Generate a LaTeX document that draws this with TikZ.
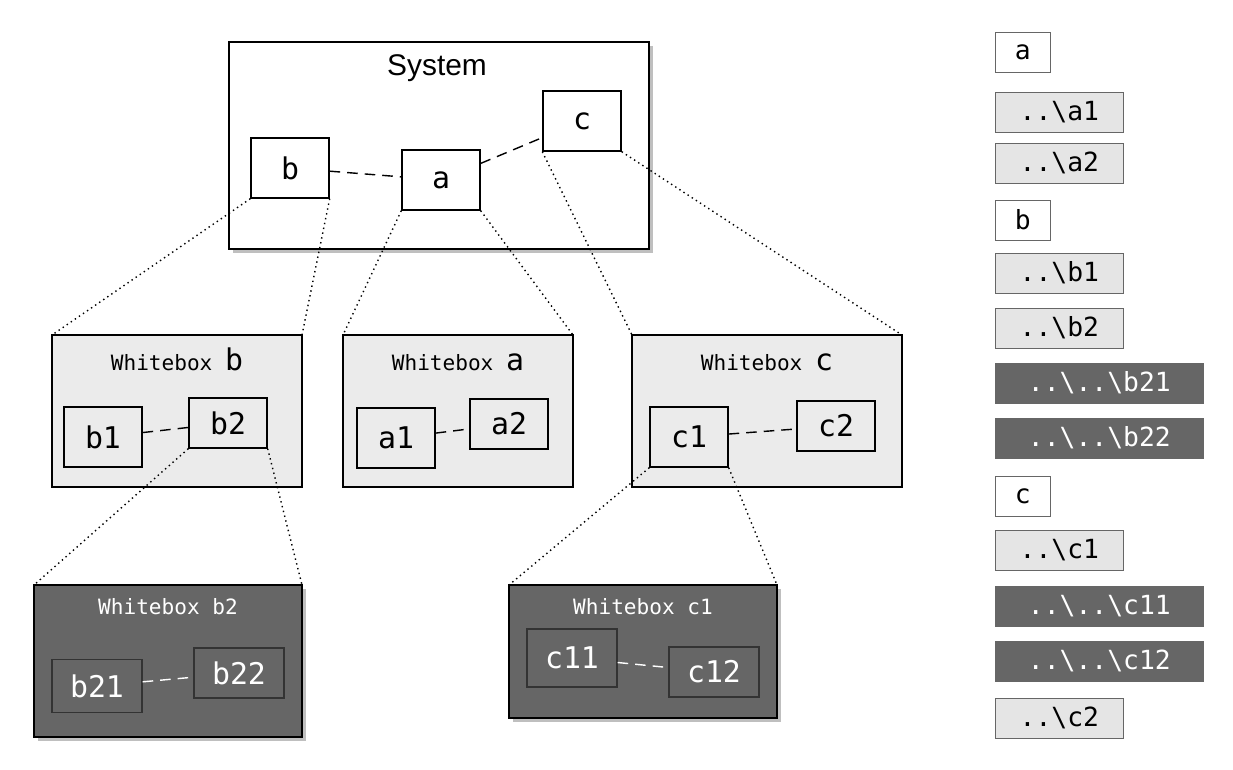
\documentclass[tikz,border=0pt]{standalone}
\usepackage{fontspec}
\setsansfont{Liberation Sans}
\setmonofont{DejaVu Sans Mono}
\usetikzlibrary{shadows}
\colorlet{wbLight}{black!8}
\colorlet{wbDark}{black!60}
\tikzset{
  part/.style={draw,thick,minimum width=1.56cm,minimum height=1.2cm,font=\ttfamily\fontsize{17}{17}\selectfont},
  darkpart/.style={part,fill=wbDark,text=white,draw=black!80,minimum width=1.8cm,minimum height=1.05cm},
  link/.style={thick,dashed,dash pattern=on 6pt off 4pt},
  zoomline/.style={thick,dotted},
  whitebox/.style={draw,thick,fill=wbLight},
  darkbox/.style={draw,thick,fill=wbDark,drop shadow={opacity=0.5}},
  entry/.style={draw=black!60,anchor=west,minimum height=0.8cm,inner xsep=4pt,font=\ttfamily\fontsize{15}{15}\selectfont},
}
\begin{document}
\begin{tikzpicture}[x=0.02cm,y=-0.02cm]
\useasboundingbox (0,0) rectangle (1233,769);
% system
\draw[thick,fill=white,drop shadow={opacity=0.5}] (229,42) rectangle (649,249);
\node[font=\sffamily\fontsize{17}{17}\selectfont] (sysTitle) at (437,68) {System};
\node[part,fill=white] (b) at (290,168) {b};
\node[part,fill=white] (a) at (441,180) {a};
\node[part,fill=white] (c) at (582,121) {c};
\draw[link] (b) -- (a);
\draw[link] (a) -- (c);
% whiteboxes
\draw[whitebox] (52,335) coordinate (wbbTL) rectangle (302,487) coordinate (wbbBR);
\coordinate (wbbTR) at (302,335);
\node[font=\ttfamily\fontsize{12}{12}\selectfont,anchor=base] (wbbTitle) at (177,370) {Whitebox \fontsize{17}{17}\selectfont b};
\node[part,fill=wbLight] (b1) at (103,437) {b1};
\node[part,fill=wbLight,minimum height=1cm] (b2) at (228,423) {b2};
\draw[link] (b1) -- (b2);
\draw[whitebox] (343,335) coordinate (wbaTL) rectangle (573,487);
\coordinate (wbaTR) at (573,335);
\node[font=\ttfamily\fontsize{12}{12}\selectfont,anchor=base] (wbaTitle) at (458,370) {Whitebox \fontsize{17}{17}\selectfont a};
\node[part,fill=wbLight] (a1) at (396,438) {a1};
\node[part,fill=wbLight,minimum height=1cm] (a2) at (509,424) {a2};
\draw[link] (a1) -- (a2);
\draw[whitebox] (632,335) coordinate (wbcTL) rectangle (902,487);
\coordinate (wbcTR) at (902,335);
\node[font=\ttfamily\fontsize{12}{12}\selectfont,anchor=base] (wbcTitle) at (767,370) {Whitebox \fontsize{17}{17}\selectfont c};
\node[part,fill=wbLight] (c1) at (689,437) {c1};
\node[part,fill=wbLight,minimum height=1cm] (c2) at (836,426) {c2};
\draw[link] (c1) -- (c2);
% dark whiteboxes
\draw[darkbox] (34,585) coordinate (wbbbTL) rectangle (302,737);
\coordinate (wbbbTR) at (302,585);
\node[text=white,font=\ttfamily\fontsize{12}{12}\selectfont,anchor=base] (wbbbTitle) at (168,614) {Whitebox b2};
\node[darkpart] (b21) at (97,686) {b21};
\node[darkpart,minimum height=1cm] (b22) at (239,673) {b22};
\draw[link,white] (b21) -- (b22);
\draw[darkbox] (509,585) coordinate (wbccTL) rectangle (777,718);
\coordinate (wbccTR) at (777,585);
\node[text=white,font=\ttfamily\fontsize{12}{12}\selectfont,anchor=base] (wbccTitle) at (643,614) {Whitebox c1};
\node[darkpart,minimum height=1.16cm] (c11) at (572,658) {c11};
\node[darkpart,minimum height=1cm] (c12) at (714,672) {c12};
\draw[link,white] (c11) -- (c12);
% zoom lines
\draw[zoomline] (b.south west) -- (wbbTL);
\draw[zoomline] (b.south east) -- (wbbTR);
\draw[zoomline] (a.south west) -- (wbaTL);
\draw[zoomline] (a.south east) -- (wbaTR);
\draw[zoomline] (c.south west) -- (wbcTL);
\draw[zoomline] (c.south east) -- (wbcTR);
\draw[zoomline] (b2.south west) -- (wbbbTL);
\draw[zoomline] (b2.south east) -- (wbbbTR);
\draw[zoomline] (c1.south west) -- (wbccTL);
\draw[zoomline] (c1.south east) -- (wbccTR);
% list
\node[entry,fill=white,minimum width=1.1cm] (la) at (995,52) {a};
\node[entry,fill=black!10,minimum width=2.56cm] (la1) at (995,112) {..\textbackslash a1};
\node[entry,fill=black!10,minimum width=2.56cm] (la2) at (995,163) {..\textbackslash a2};
\node[entry,fill=white,minimum width=1.1cm] (lb) at (995,220) {b};
\node[entry,fill=black!10,minimum width=2.56cm] (lb1) at (995,273) {..\textbackslash b1};
\node[entry,fill=black!10,minimum width=2.56cm] (lb2) at (995,328) {..\textbackslash b2};
\node[entry,fill=wbDark,text=white,minimum width=4.16cm] (lb21) at (995,383) {..\textbackslash ..\textbackslash b21};
\node[entry,fill=wbDark,text=white,minimum width=4.16cm] (lb22) at (995,438) {..\textbackslash ..\textbackslash b22};
\node[entry,fill=white,minimum width=1.1cm] (lc) at (995,496) {c};
\node[entry,fill=black!10,minimum width=2.56cm] (lc1) at (995,550) {..\textbackslash c1};
\node[entry,fill=wbDark,text=white,minimum width=4.16cm] (lc11) at (995,606) {..\textbackslash ..\textbackslash c11};
\node[entry,fill=wbDark,text=white,minimum width=4.16cm] (lc12) at (995,661) {..\textbackslash ..\textbackslash c12};
\node[entry,fill=black!10,minimum width=2.56cm] (lc2) at (995,718) {..\textbackslash c2};
\end{tikzpicture}
\end{document}
